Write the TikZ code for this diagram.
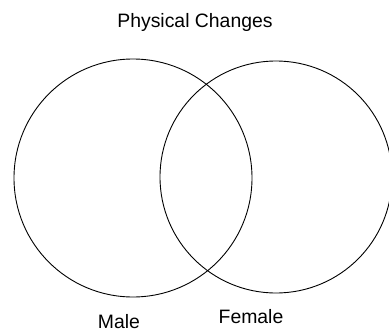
\documentclass[tikz,border=0pt]{standalone}
\usepackage{fontspec}
\setmainfont{Liberation Sans}
\begin{document}
\begin{tikzpicture}[x=1pt,y=-1pt,
  lbl/.style={anchor=base,inner sep=0pt,font=\fontsize{19.4}{23}\selectfont},
  ring/.style={draw=black,line width=0.9pt}]
\useasboundingbox (0,0) rectangle (389,333);
\fill[white] (0,0) rectangle (389,333);
\node[ring,circle,minimum size=238pt,inner sep=0pt] (male) at (133,178) {};
\node[ring,circle,minimum size=232pt,inner sep=0pt] (female) at (276,177) {};
\node[lbl] (title) at (195,27) {Physical Changes};
\node[lbl] (malelbl) at (119,328) {Male};
\node[lbl] (femalelbl) at (251,323) {Female};
\end{tikzpicture}
\end{document}
